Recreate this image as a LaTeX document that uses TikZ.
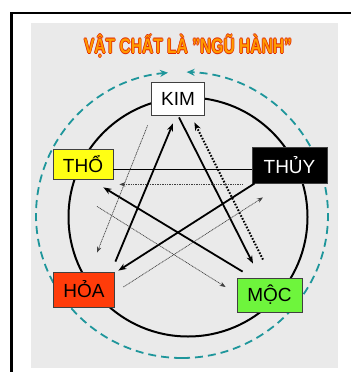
\documentclass[tikz,border=0pt]{standalone}
\usepackage{fontspec}
\setmainfont{Liberation Sans}
\usetikzlibrary{arrows.meta}
\definecolor{bggray}{RGB}{234,234,234}
\definecolor{teal2}{RGB}{30,150,155}
\definecolor{titleor}{RGB}{255,155,0}
\definecolor{titlered}{RGB}{225,40,0}
\definecolor{hoared}{RGB}{255,60,10}
\definecolor{mocgreen}{RGB}{110,245,60}
\definecolor{thoyellow}{RGB}{255,255,20}
\begin{document}
\begin{tikzpicture}[x=1pt,y=-1pt,
  elem/.style={draw=black!75,line width=0.8pt,inner sep=0pt,font=\fontsize{19}{19}\selectfont},
  khac/.style={line width=1.8pt,-{Stealth[length=8pt,width=6pt]}},
  bigdot/.style={line width=2pt,dash pattern=on 1.6pt off 1.6pt,-{Stealth[length=8pt,width=6pt]}},
  thin/.style={line width=0.7pt,black!75,dash pattern=on 1pt off 0.7pt,-{Stealth[length=6pt,width=4.5pt]}},
  ring/.style={teal2,line width=1.8pt,dash pattern=on 8pt off 5pt},
  ttl/.style={font=\bfseries\fontsize{20}{20}\selectfont,inner sep=0pt}]
\useasboundingbox (0,0) rectangle (351,372);
\fill[white] (0,0) rectangle (351,372);
\fill[bggray] (31,23) rectangle (338,368);
\draw[line width=2.5pt] (10,13) -- (351,13);
\draw[line width=2.5pt] (11.5,12) -- (11.5,372);
% title
\foreach \dx/\dy in {-0.7/0,0.7/0,0/-0.7,0/0.7}{
  \node[titlered,ttl] at (188+\dx,46+\dy) {\scalebox{0.78}[1.05]{VẬT CHẤT LÀ "NGŨ HÀNH"}};
}
\node (title)[titleor,ttl] at (188,46) {\scalebox{0.78}[1.05]{VẬT CHẤT LÀ "NGŨ HÀNH"}};
% circles
\draw[line width=2pt] (188,217) circle[radius=119.5];
\draw[ring,-{Stealth[length=8pt,width=7pt]}] (182,358) arc[start angle=90,end angle=264.5,x radius=146,y radius=143];
\draw[ring,-{Stealth[length=8pt,width=7pt]}] (182,358) arc[start angle=90,end angle=-88.2,x radius=146,y radius=143];
% nodes
\node (kim)[elem,fill=white,minimum width=53pt,minimum height=33pt] at (178,98.5) {KIM};
\node (tho)[elem,fill=thoyellow,minimum width=60pt,minimum height=30pt] at (83,164) {THỔ};
\node (thuy)[elem,fill=black,text=white,minimum width=75pt,minimum height=36pt] at (289.5,165) {THỦY};
\node (hoa)[elem,fill=hoared,minimum width=61pt,minimum height=35pt] at (84,289.5) {HỎA};
\node (moc)[elem,fill=mocgreen,minimum width=65pt,minimum height=34pt] at (269.5,295) {MỘC};
% khac cycle
\draw[line width=1.8pt] ([shift={(0,5.5)}]tho.east) -- ([shift={(0,4.5)}]thuy.west);
\draw[khac] ([shift={(1,2)}]kim.south) -- ([shift={(-16.5,-14)}]moc.north);
\draw[khac] ([shift={(6,-6)}]moc.north west) -- ([shift={(-10,8)}]tho.south east);
\draw[khac] ([shift={(3,0)}]thuy.south west) -- ([shift={(3.5,-1)}]hoa.north east);
\draw[khac] ([shift={(0.5,-10)}]hoa.north east) -- ([shift={(-5,8)}]kim.south);
% dotted
\draw[bigdot] ([shift={(-6.5,-18)}]moc.north) -- ([shift={(-10.5,7)}]kim.south east);
\draw[thin] ([shift={(-9,1)}]thuy.south west) -- ([shift={(6,5)}]tho.south east);
\draw[thin] ([shift={(-3.5,10)}]kim.south west) -- ([shift={(13,-19)}]hoa.north);
\draw[thin] ([shift={(8.5,-2.5)}]hoa.east) -- ([shift={(-26.5,14)}]thuy.south);
\draw[thin] ([shift={(14,27)}]tho.south) -- ([shift={(-11,-8)}]moc.west);
\end{tikzpicture}
\end{document}
